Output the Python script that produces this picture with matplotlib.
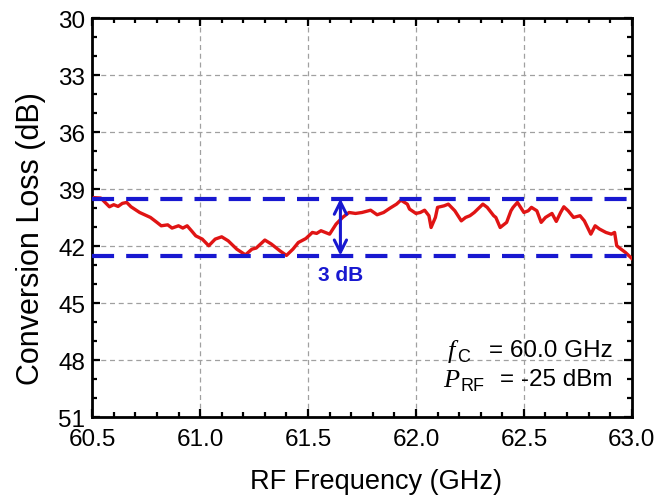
import matplotlib
matplotlib.use("Agg")
import matplotlib.pyplot as plt
from matplotlib.ticker import MultipleLocator

plt.rcParams['font.family'] = ['Liberation Sans', 'DejaVu Sans']

freq = [60.51, 60.54, 60.56, 60.58, 60.60, 60.62, 60.64, 60.66, 60.68, 60.72, 60.77,
        60.80, 60.82, 60.85, 60.87, 60.90, 60.92, 60.94, 60.96, 60.98, 61.01, 61.04,
        61.07, 61.10, 61.13, 61.17, 61.21, 61.24, 61.26, 61.30, 61.33, 61.37, 61.40,
        61.43, 61.455, 61.49, 61.52, 61.54, 61.56, 61.58, 61.60, 61.63, 61.66, 61.69,
        61.72, 61.75, 61.79, 61.82, 61.85, 61.88, 61.91, 61.93, 61.96, 61.97, 62.00,
        62.02, 62.04, 62.06, 62.07, 62.09, 62.10, 62.13, 62.15, 62.18, 62.21, 62.23,
        62.25, 62.27, 62.31, 62.33, 62.36, 62.37, 62.39, 62.40, 62.42, 62.44, 62.45,
        62.47, 62.50, 62.52, 62.535, 62.56, 62.58, 62.60, 62.63, 62.65, 62.67, 62.685,
        62.705, 62.73, 62.76, 62.78, 62.81, 62.83, 62.85, 62.88, 62.905, 62.92, 62.93,
        62.95, 62.97, 63.0]
loss = [39.45, 39.47, 39.70, 39.93, 39.82, 39.91, 39.75, 39.70, 39.93, 40.23, 40.49,
        40.75, 40.93, 40.88, 41.05, 40.93, 41.05, 40.93, 41.19, 41.46, 41.63, 41.98,
        41.63, 41.51, 41.72, 42.16, 42.46, 42.16, 42.10, 41.68, 41.89, 42.25, 42.49,
        42.16, 41.81, 41.60, 41.28, 41.33, 41.19, 41.28, 41.37, 40.84, 40.49, 40.23,
        40.28, 40.23, 40.11, 40.35, 40.23, 40.00, 39.79, 39.58, 39.79, 40.05, 40.28,
        40.23, 40.11, 40.40, 41.02, 40.49, 39.96, 39.88, 39.79, 40.14, 40.67, 40.49,
        40.40, 40.23, 39.79, 39.96, 40.40, 40.49, 41.02, 40.93, 40.75, 40.14, 39.96,
        39.70, 40.23, 40.14, 39.96, 40.14, 40.75, 40.49, 40.28, 40.70, 40.23, 39.93,
        40.14, 40.49, 40.40, 40.67, 41.37, 40.93, 41.10, 41.28, 41.37, 41.28, 41.98,
        42.16, 42.33, 42.65]

upper_ref = 39.5
lower_ref = 42.5
arrow_x = 61.65
x_ticks = [60.5, 61.0, 61.5, 62.0, 62.5, 63.0]
y_ticks = [30, 33, 36, 39, 42, 45, 48, 51]

fig = plt.figure(figsize=(6.63, 5.02), dpi=100)
ax = fig.add_axes([0.139, 0.167, 0.814, 0.795])

ax.plot(freq, loss, color='#e01414', lw=2.4, zorder=3)
for yv in (upper_ref, lower_ref):
    ax.axhline(yv, color='#1818d0', lw=3, ls=(0, (5.3, 2.9)), zorder=4)

ax.annotate('', xy=(arrow_x, upper_ref), xytext=(arrow_x, lower_ref),
            arrowprops=dict(arrowstyle='<->', color='#1818d0', lw=2.2,
                            mutation_scale=22, shrinkA=0, shrinkB=0), zorder=5)
ax.text(arrow_x, 43.5, '3 dB', color='#1818d0', fontsize=15, fontweight='bold',
        ha='center', va='center')

# annotation block
ax.text(62.145, 47.5, 'f', family='Liberation Serif', fontsize=19, style='italic',
        ha='left', va='center')
ax.text(62.19, 47.8, 'C', fontsize=13, ha='left', va='center')
ax.text(62.91, 47.45, '= 60.0 GHz', fontsize=17.5, ha='right', va='center')
ax.text(62.125, 49.05, 'P', family='Liberation Serif', fontsize=19, style='italic',
        ha='left', va='center')
ax.text(62.205, 49.35, 'RF', fontsize=13, ha='left', va='center')
ax.text(62.91, 49.0, '= -25 dBm', fontsize=17.5, ha='right', va='center')

ax.set_xlim(60.5, 63.0)
ax.set_ylim(51, 30)
ax.set_xticks(x_ticks)
ax.set_xticklabels([f'{v:.1f}' for v in x_ticks])
ax.set_yticks(y_ticks)
ax.xaxis.set_minor_locator(MultipleLocator(0.1))
ax.yaxis.set_minor_locator(MultipleLocator(1))
ax.grid(True, which='major', color='#a0a0a0', ls=(0, (4, 3)), lw=0.9)
ax.tick_params(which='both', direction='in', top=True, right=True, width=1.6,
               labelsize=17.5)
ax.tick_params(which='major', length=6)
ax.tick_params(which='minor', length=3.5)
ax.tick_params(axis='x', pad=8)
ax.tick_params(axis='y', pad=5)
for s in ax.spines.values():
    s.set_linewidth(2)

ax.set_xlabel('RF Frequency (GHz)', fontsize=19.5)
ax.set_ylabel('Conversion Loss (dB)', fontsize=22)
ax.xaxis.set_label_coords(0.526, -0.128)
ax.yaxis.set_label_coords(-0.085, 0.45)

fig.savefig('out.png', dpi=100)
